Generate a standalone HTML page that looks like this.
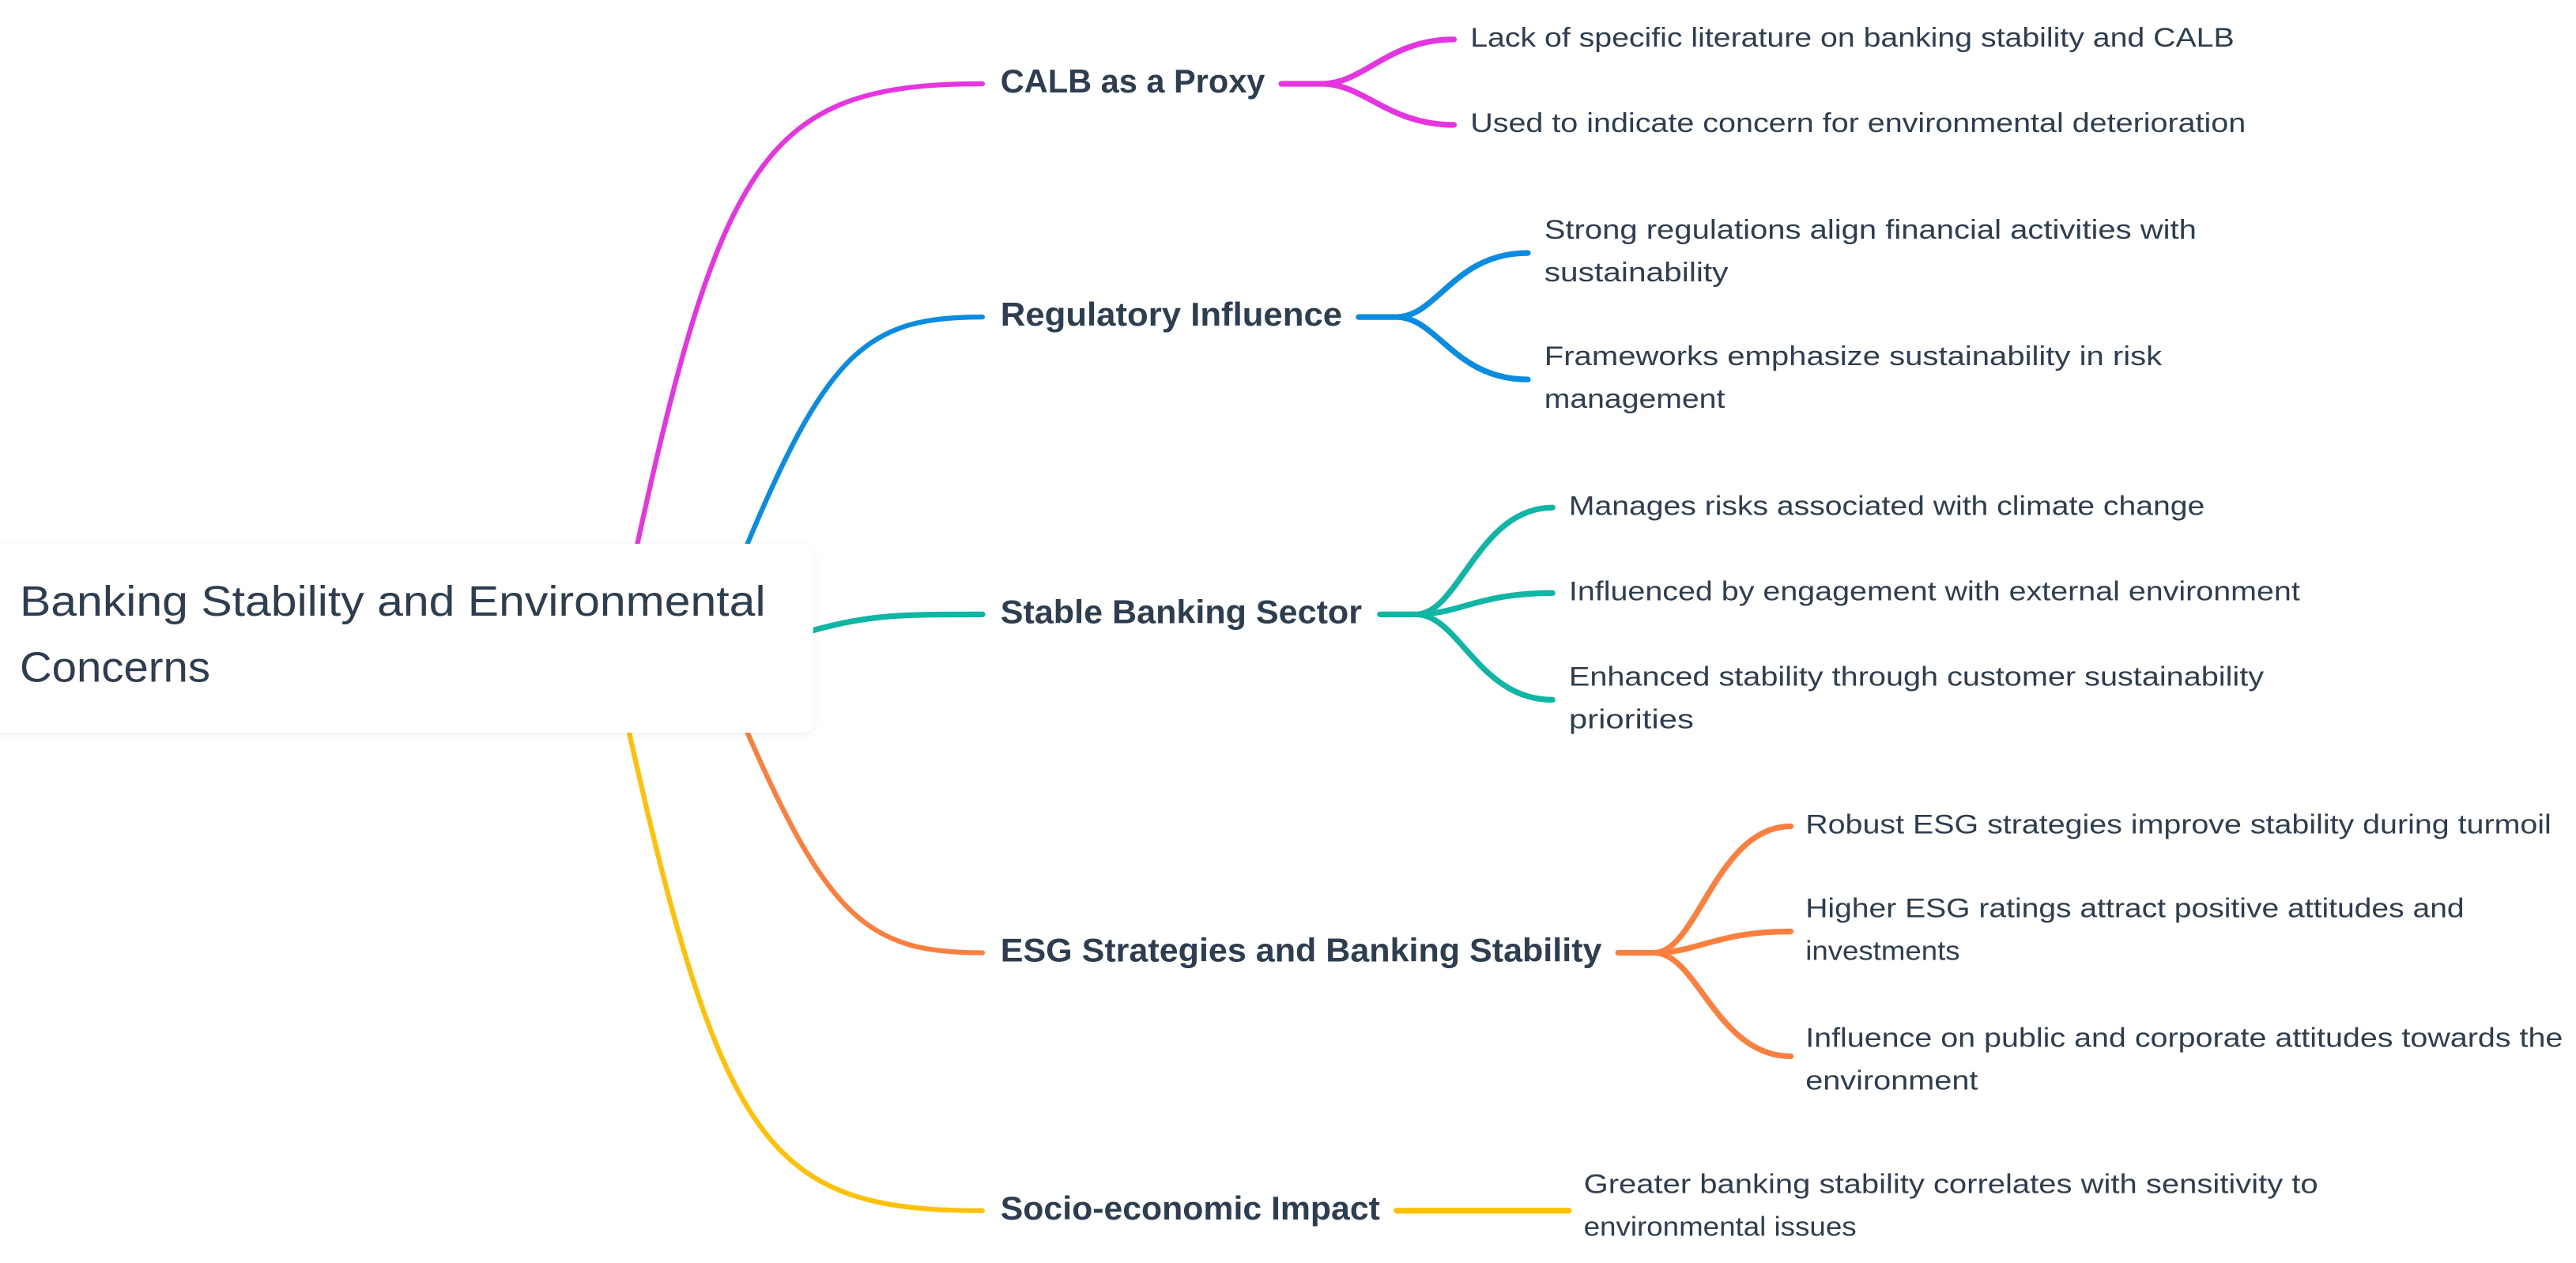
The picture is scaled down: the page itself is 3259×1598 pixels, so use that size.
<!DOCTYPE html>
<html><head><meta charset="utf-8"><style>
html,body{margin:0;padding:0;background:#fff;}
svg{display:block}
text{font-family:"Liberation Sans",sans-serif;fill:#2d3e50;dominant-baseline:middle}
.b{font-weight:bold;font-size:20px}
.c{font-size:16.5px}
.r{font-size:26px}
path{fill:none;stroke-linecap:round}
</style></head><body>
<svg width="3259" height="1598" viewBox="0 0 1568 768.85" xmlns="http://www.w3.org/2000/svg">
<defs><filter id="sh" x="-5%" y="-20%" width="110%" height="140%"><feDropShadow dx="0" dy="1" stdDeviation="2" flood-color="#000" flood-opacity="0.06"/></filter></defs>
<g transform="translate(0,1)">
<path d="M388,330 C440,90 470,50 598,50" stroke="#e535e0" stroke-width="3"/>
<path d="M455,330 C505,210 530,192 598,192" stroke="#0a8de0" stroke-width="3"/>
<path d="M494,383 C530,373 550,373 598,373" stroke="#0fb5a5" stroke-width="3.5"/>
<path d="M455,445 C505,560 530,579 598,579" stroke="#fb8040" stroke-width="3"/>
<path d="M383,445 C440,700 470,736 598,736" stroke="#ffc107" stroke-width="3"/>
<rect x="-10" y="330" width="505" height="115" rx="6" fill="#fff" filter="url(#sh)"/>
<text class="r" x="12" y="367" textLength="454" lengthAdjust="spacingAndGlyphs">Banking Stability and Environmental</text>
<text class="r" x="12" y="407" textLength="116" lengthAdjust="spacingAndGlyphs">Concerns</text>
<text class="b" x="609" y="50" textLength="161" lengthAdjust="spacingAndGlyphs">CALB as a Proxy</text>
<path d="M780,50 L805,50 C830,50 845,23 885,23 M805,50 C830,50 845,75 885,75" stroke="#e535e0" stroke-width="3.5"/>
<text class="c" x="895" y="23" textLength="465" lengthAdjust="spacingAndGlyphs">Lack of specific literature on banking stability and CALB</text>
<text class="c" x="895" y="75" textLength="472" lengthAdjust="spacingAndGlyphs">Used to indicate concern for environmental deterioration</text>
<text class="b" x="609" y="192" textLength="208" lengthAdjust="spacingAndGlyphs">Regulatory Influence</text>
<path d="M827,192 L850,192 C875,192 885,153 930,153 M850,192 C875,192 885,230 930,230" stroke="#0a8de0" stroke-width="3.5"/>
<text class="c" x="940" y="140" textLength="397" lengthAdjust="spacingAndGlyphs">Strong regulations align financial activities with</text>
<text class="c" x="940" y="166" textLength="112" lengthAdjust="spacingAndGlyphs">sustainability</text>
<text class="c" x="940" y="217" textLength="376" lengthAdjust="spacingAndGlyphs">Frameworks emphasize sustainability in risk</text>
<text class="c" x="940" y="243" textLength="110" lengthAdjust="spacingAndGlyphs">management</text>
<text class="b" x="609" y="373" textLength="220" lengthAdjust="spacingAndGlyphs">Stable Banking Sector</text>
<path d="M840,373 L862,373 C888,373 900,308 945,308 M862,373 C888,373 900,360 945,360 M862,373 C888,373 900,425 945,425" stroke="#0fb5a5" stroke-width="3.5"/>
<text class="c" x="955" y="308" textLength="387" lengthAdjust="spacingAndGlyphs">Manages risks associated with climate change</text>
<text class="c" x="955" y="360" textLength="445" lengthAdjust="spacingAndGlyphs">Influenced by engagement with external environment</text>
<text class="c" x="955" y="412" textLength="423" lengthAdjust="spacingAndGlyphs">Enhanced stability through customer sustainability</text>
<text class="c" x="955" y="438" textLength="76" lengthAdjust="spacingAndGlyphs">priorities</text>
<text class="b" x="609" y="579" textLength="366" lengthAdjust="spacingAndGlyphs">ESG Strategies and Banking Stability</text>
<path d="M985,579 L1007,579 C1033,579 1045,502 1090,502 M1007,579 C1033,579 1045,566 1090,566 M1007,579 C1033,579 1045,642 1090,642" stroke="#fb8040" stroke-width="3.5"/>
<text class="c" x="1099" y="502" textLength="454" lengthAdjust="spacingAndGlyphs">Robust ESG strategies improve stability during turmoil</text>
<text class="c" x="1099" y="553" textLength="401" lengthAdjust="spacingAndGlyphs">Higher ESG ratings attract positive attitudes and</text>
<text class="c" x="1099" y="579" textLength="94" lengthAdjust="spacingAndGlyphs">investments</text>
<text class="c" x="1099" y="632" textLength="461" lengthAdjust="spacingAndGlyphs">Influence on public and corporate attitudes towards the</text>
<text class="c" x="1099" y="658" textLength="105" lengthAdjust="spacingAndGlyphs">environment</text>
<text class="b" x="609" y="736" textLength="231" lengthAdjust="spacingAndGlyphs">Socio-economic Impact</text>
<path d="M850,736 L955,736" stroke="#ffc107" stroke-width="3.5"/>
<text class="c" x="964" y="721" textLength="447" lengthAdjust="spacingAndGlyphs">Greater banking stability correlates with sensitivity to</text>
<text class="c" x="964" y="747" textLength="166" lengthAdjust="spacingAndGlyphs">environmental issues</text>
</g>
</svg>
</body></html>
